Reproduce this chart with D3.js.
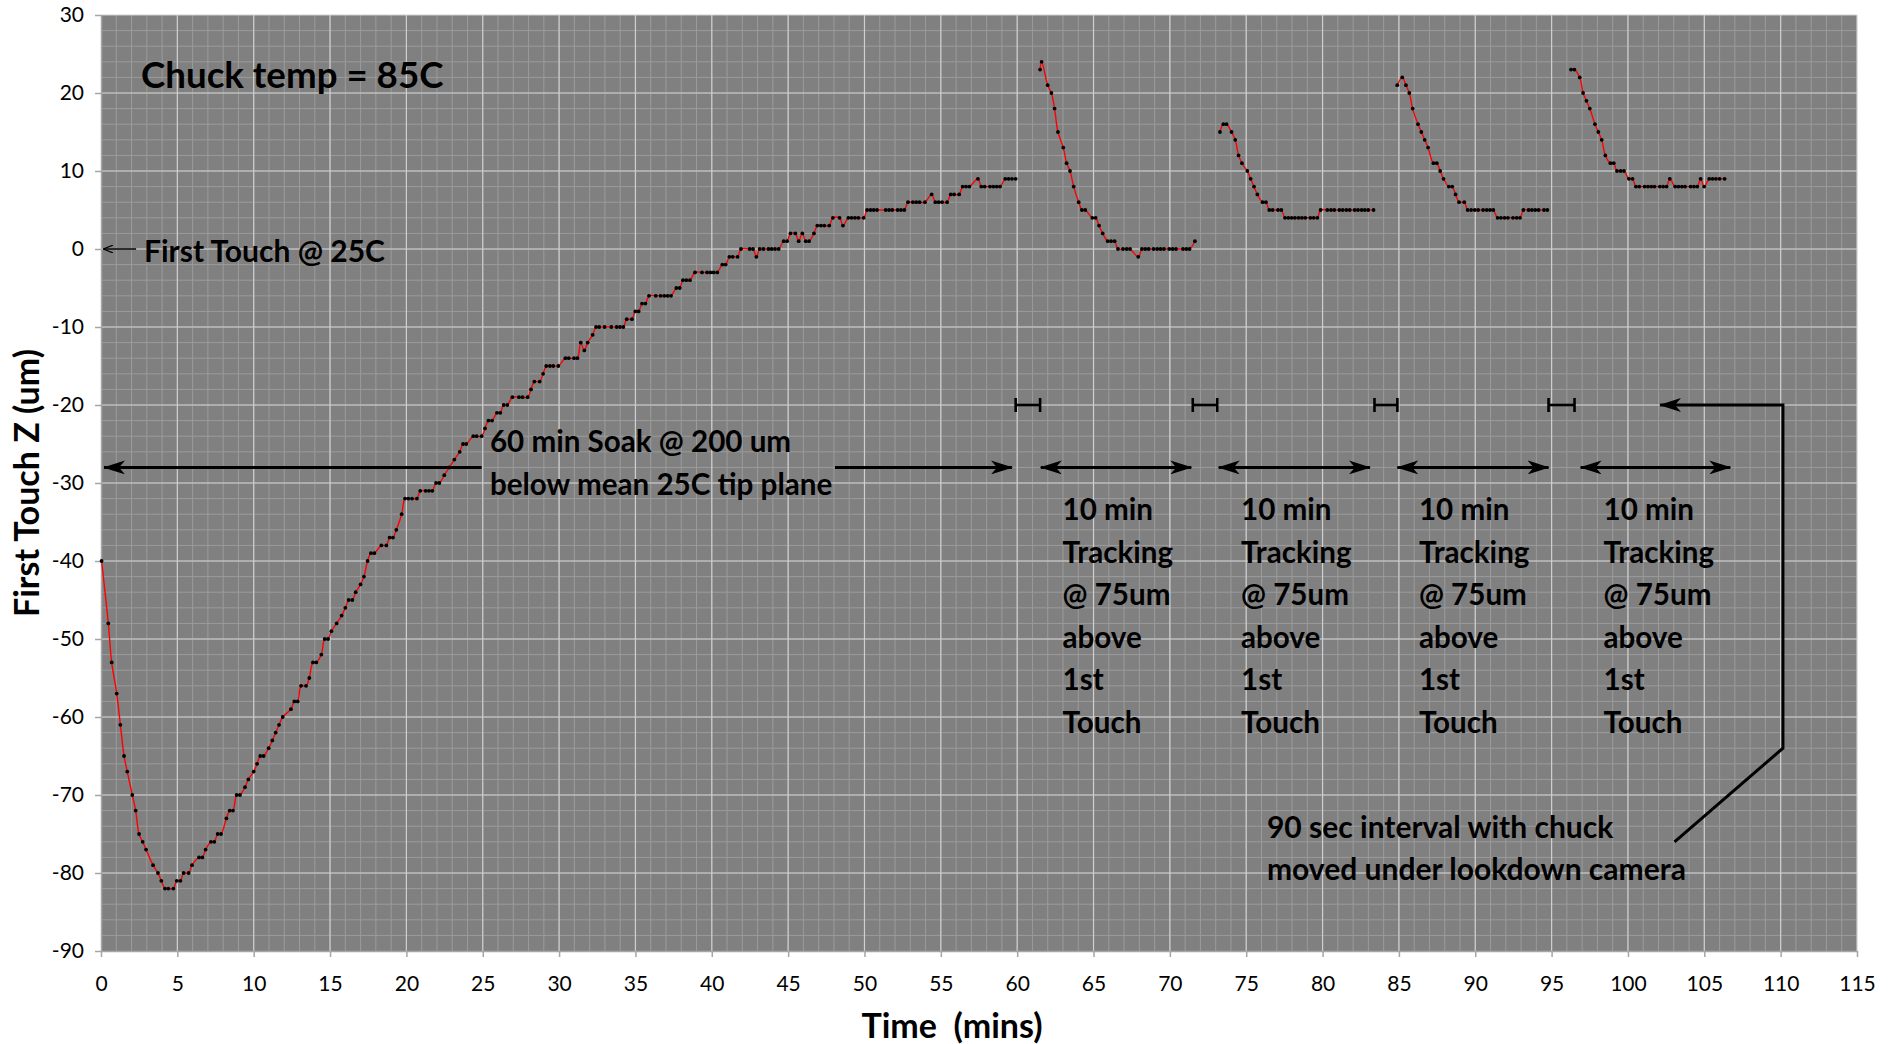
<!DOCTYPE html>
<html>
<head>
<meta charset="utf-8">
<script src="https://cdn.jsdelivr.net/npm/d3@7"></script>
<style>
  body { margin: 0; background: #fff; }
  svg { display: block; font-family: Lato, "Open Sans", sans-serif; }
  .tick text { fill: #000; }
  .ann { font-weight: bold; fill: #000; }
</style>
</head>
<body>
<svg id="chart" width="1889" height="1044"></svg>
<script>
(function () {
    'use strict';

    // ---- data (minutes, um) ----
    var soakT = [0.04, 0.48, 0.70, 1.03, 1.27, 1.51, 1.72, 2.05, 2.27, 2.49, 2.73, 2.95, 3.41, 3.73, 3.95, 4.19, 4.41, 4.74, 4.96, 5.20,
        5.41, 5.74, 5.96, 6.42, 6.64, 6.85, 7.20, 7.42, 7.64, 7.86, 8.21, 8.43, 8.64, 8.88, 9.10, 9.43, 9.65, 10.0, 10.22, 10.43,
        10.65, 10.98, 11.22, 11.44, 11.66, 11.9, 12.44, 12.66, 12.88, 13.1,
        13.43, 13.64, 13.88, 14.10, 14.43, 14.65, 14.87, 15.09, 15.43, 15.76, 16.0, 16.22, 16.46, 16.68, 17.0, 17.22, 17.46, 17.68, 17.9, 18.36,
        18.69, 18.9, 19.12, 19.34, 19.69, 19.91, 20.13, 20.37, 20.69, 20.91, 21.26, 21.48, 21.7, 21.94, 22.16, 22.48, 22.81, 23.14, 23.49, 23.71,
        23.92, 24.38, 24.6, 24.93, 25.15, 25.37, 25.61, 25.93, 26.15, 26.37, 26.61, 26.94, 27.37, 27.61, 27.94, 28.16, 28.38, 28.73, 28.95, 29.16,
        29.4, 29.62, 29.95,
        30.41, 30.63, 30.98, 31.2, 31.42, 31.65, 31.87, 32.2, 32.42, 32.63, 32.98, 33.42, 33.77, 33.99, 34.21, 34.43, 34.77, 34.99, 35.21, 35.43,
        35.65, 35.89, 36.33, 36.65, 36.89, 37.11, 37.33, 37.68, 37.9, 38.11, 38.33, 38.57, 38.9, 39.36, 39.69, 39.91, 40.12, 40.36, 40.69, 40.91,
        41.15, 41.37, 41.69, 41.91, 42.48, 42.7, 42.92, 43.14, 43.38, 43.71, 43.92, 44.14, 44.38, 44.71, 44.93, 45.15,
        45.47, 45.69, 45.93, 46.15, 46.37, 46.69, 46.91, 47.15, 47.37, 47.69, 47.93, 48.37, 48.59, 48.94, 49.16, 49.38, 49.6, 49.95, 50.17, 50.39,
        50.6, 50.82, 51.39, 51.61, 51.82, 52.17, 52.39, 52.61, 52.85, 53.17, 53.39, 53.61, 53.96, 54.4, 54.64, 54.86, 55.08, 55.41, 55.65, 55.87,
        56.2, 56.43, 56.65, 56.87, 57.43, 57.65, 57.87, 58.22, 58.44, 58.66, 58.88, 59.22, 59.44, 59.66, 59.9];
    var soakZ = [-40, -48, -53, -57, -61, -65, -67, -70, -72, -75, -76, -77, -79, -80, -81, -82, -82, -82, -81, -81,
        -80, -80, -79, -78, -78, -77, -76, -76, -75, -75, -73, -72, -72, -70, -70, -69, -68, -67, -66, -65,
        -65, -64, -63, -62, -61, -60, -59, -58, -58, -56,
        -56, -55, -53, -53, -52, -50, -50, -49, -48, -47, -46, -45, -45, -44, -43, -42, -40, -39, -39, -38,
        -38, -37, -37, -36, -34, -32, -32, -32, -32, -31, -31, -31, -31, -30, -30, -29, -28, -27, -26, -25,
        -25, -24, -24, -24, -23, -22, -22, -21, -21, -20, -20, -19, -19, -19, -19, -18, -17, -17, -16, -15,
        -15, -15, -15,
        -14, -14, -14, -14, -12, -13, -12, -11, -10, -10, -10, -10, -10, -10, -10, -9, -9, -8, -8, -7,
        -7, -6, -6, -6, -6, -6, -6, -5, -5, -4, -4, -4, -3, -3, -3, -3, -3, -3, -2, -2,
        -1, -1, -1, 0, 0, 0, -1, 0, 0, 0, 0, 0, 0, 1, 1, 2,
        2, 1, 2, 1, 1, 2, 3, 3, 3, 3, 4, 4, 3, 4, 4, 4, 4, 4, 5, 5,
        5, 5, 5, 5, 5, 5, 5, 5, 6, 6, 6, 6, 6, 7, 6, 6, 6, 6, 7, 7,
        7, 8, 8, 8, 9, 8, 8, 8, 8, 8, 8, 9, 9, 9, 9];

    var track1T = [61.5, 61.6, 62.0, 62.24, 62.45, 62.67, 63.02, 63.24, 63.46, 63.7, 64.03, 64.24, 64.46, 64.92, 65.14, 65.36, 65.6, 65.93, 66.15, 66.38,
        66.6, 66.93, 67.17, 67.39, 67.93, 68.17, 68.39, 68.61, 68.93, 69.17, 69.39, 69.61, 69.96, 70.18, 70.4, 70.86, 71.08, 71.29, 71.64];
    var track1Z = [23, 24, 21, 20, 18, 15, 13, 11, 10, 8, 6, 5, 5, 4, 4, 3, 2, 1, 1, 1,
        0, 0, 0, 0, -1, 0, 0, 0, 0, 0, 0, 0, 0, 0, 0, 0, 0, 0, 1];

    var track2T = [73.28, 73.5, 73.71, 74.04, 74.28, 74.5, 74.72, 75.07, 75.29, 75.51, 75.73, 76.07, 76.29, 76.51, 76.73, 77.08, 77.3, 77.54, 77.76, 77.98,
        78.19, 78.43, 78.65, 78.87, 79.2, 79.42, 79.66, 79.87, 80.31, 80.55, 80.77, 81.1, 81.32, 81.56, 81.78, 82.1, 82.32, 82.56, 82.77, 82.99, 83.34];
    var track2Z = [15, 16, 16, 15, 14, 12, 11, 10, 9, 8, 7, 6, 6, 5, 5, 5, 5, 4, 4, 4,
        4, 4, 4, 4, 4, 4, 4, 5, 5, 5, 5, 5, 5, 5, 5, 5, 5, 5, 5, 5, 5];

    var track3T = [84.89, 85.22, 85.46, 85.68, 85.9, 86.25, 86.47, 86.69, 86.91, 87.26, 87.48, 87.7, 87.92, 88.27, 88.49, 88.71, 88.94, 89.28, 89.5, 89.73,
        89.97, 90.19, 90.51, 90.75, 90.97, 91.18, 91.46, 91.68, 91.92, 92.14, 92.47, 92.71, 92.93, 93.15, 93.49, 93.71, 93.93, 94.15, 94.5, 94.72];
    var track3Z = [21, 22, 21, 20, 18, 16, 15, 14, 13, 11, 11, 10, 9, 8, 8, 7, 6, 6, 5, 5,
        5, 5, 5, 5, 5, 5, 4, 4, 4, 4, 4, 4, 4, 5, 5, 5, 5, 5, 5, 5];

    var track4T = [96.27, 96.49, 96.84, 97.06, 97.28, 97.5, 97.84, 98.06, 98.28, 98.52, 98.85, 99.07, 99.28, 99.52, 99.74, 100.06, 100.3, 100.52, 100.74, 101.09,
        101.31, 101.53, 101.74, 102.09, 102.31, 102.53, 102.74, 103.09, 103.31, 103.53, 103.74, 104.1, 104.32, 104.54, 104.76, 104.99, 105.32, 105.54, 105.76, 106.0, 106.33];
    var track4Z = [23, 23, 22, 20, 19, 18, 16, 15, 14, 12, 11, 11, 10, 10, 10, 9, 9, 8, 8, 8,
        8, 8, 8, 8, 8, 8, 9, 8, 8, 8, 8, 8, 8, 8, 9, 8, 9, 9, 9, 9, 9];

    // 10 min tracking windows and the 90 sec camera intervals (minutes)
    var trackWindows = [[61.55, 71.4], [73.2, 83.1], [84.9, 94.8], [96.9, 106.7]];
    var cameraGaps = [[59.9, 61.5], [71.5, 73.1], [83.4, 84.9], [94.8, 96.5]];

    var xTicks = d3.range(0, 116, 5);
    var yTicks = d3.range(-90, 31, 10);

    // ---- layout ----
    var svg = d3.select("#chart");
    var left = 101, top = 15, w = 1756, h = 936;

    var x = d3.scaleLinear().domain([0, 115]).range([left, left + w]);
    var y = d3.scaleLinear().domain([-90, 30]).range([top + h, top]);

    var defs = svg.append("defs");
    defs.append("marker")
        .attr("id", "stealth")
        .attr("viewBox", "0 -7 22 14")
        .attr("refX", 21)
        .attr("refY", 0)
        .attr("markerUnits", "userSpaceOnUse")
        .attr("markerWidth", 22)
        .attr("markerHeight", 14)
        .attr("orient", "auto-start-reverse")
        .append("path")
        .attr("d", "M0,-7L22,0L0,7L6,0Z")
        .style("fill", "#000");
    defs.append("marker")
        .attr("id", "small")
        .attr("viewBox", "0 -4 10 8")
        .attr("refX", 10)
        .attr("refY", 0)
        .attr("markerUnits", "userSpaceOnUse")
        .attr("markerWidth", 10)
        .attr("markerHeight", 8)
        .attr("orient", "auto-start-reverse")
        .append("path")
        .attr("d", "M0,-4L10,0L0,4")
        .style("fill", "none")
        .style("stroke", "#000")
        .style("stroke-width", 1.3);

    // plot area
    svg.append("rect")
        .attr("x", left).attr("y", top).attr("width", w).attr("height", h)
        .style("fill", "#808080");

    var grid = svg.append("g");
    grid.selectAll(".vmin").data(d3.range(1, 115)).enter().append("line")
        .attr("x1", function (d) { return x(d); }).attr("x2", function (d) { return x(d); })
        .attr("y1", top).attr("y2", top + h)
        .style("stroke", "#9b9b9b").style("stroke-width", 1);
    grid.selectAll(".hmin").data(d3.range(-88, 30, 2)).enter().append("line")
        .attr("x1", left).attr("x2", left + w)
        .attr("y1", function (d) { return y(d); }).attr("y2", function (d) { return y(d); })
        .style("stroke", "#9b9b9b").style("stroke-width", 1);
    grid.selectAll(".vmaj").data(xTicks.slice(1)).enter().append("line")
        .attr("x1", function (d) { return x(d); }).attr("x2", function (d) { return x(d); })
        .attr("y1", top).attr("y2", top + h)
        .style("stroke", "#cfcfcf").style("stroke-width", 1.2);
    grid.selectAll(".hmaj").data(yTicks.slice(1)).enter().append("line")
        .attr("x1", left).attr("x2", left + w)
        .attr("y1", function (d) { return y(d); }).attr("y2", function (d) { return y(d); })
        .style("stroke", "#cfcfcf").style("stroke-width", 1.2);

    // axes (plain hyphen for negatives, as in the original)
    var plain = function (d) { return String(d); };
    var xAxis = svg.append("g")
        .attr("transform", "translate(0," + (top + h) + ")")
        .call(d3.axisBottom(x).tickValues(xTicks).tickFormat(plain).tickSize(6).tickSizeOuter(0).tickPadding(19));
    var yAxis = svg.append("g")
        .attr("transform", "translate(" + left + ",0)")
        .call(d3.axisLeft(y).tickValues(yTicks).tickFormat(plain).tickSize(6).tickSizeOuter(0).tickPadding(11));
    [xAxis, yAxis].forEach(function (a) {
        a.select(".domain").style("stroke", "#a6a6a6").style("stroke-width", 1.5);
        a.selectAll(".tick line").style("stroke", "#a6a6a6").style("stroke-width", 1.5);
        a.selectAll(".tick text").style("font-size", "21px").style("font-family", "Lato, sans-serif");
    });

    svg.append("text")
        .attr("class", "ann")
        .attr("x", 952).attr("y", 1038)
        .attr("text-anchor", "middle")
        .style("font-size", "34px")
        .style("white-space", "pre")
        .text("Time  (mins)");
    svg.append("text")
        .attr("class", "ann")
        .attr("transform", "translate(39," + (top + h / 2) + ") rotate(-90)")
        .attr("text-anchor", "middle")
        .style("font-size", "34px")
        .text("First Touch Z (um)");

    // data series
    var series = [[soakT, soakZ], [track1T, track1Z], [track2T, track2Z], [track3T, track3Z], [track4T, track4Z]];
    var line = d3.line()
        .x(function (d) { return x(d[0]); })
        .y(function (d) { return y(d[1]); })
        .curve(d3.curveCatmullRom.alpha(0.5));

    series.forEach(function (s) {
        var pts = d3.zip(s[0], s[1]);
        svg.append("path")
            .datum(pts)
            .attr("d", line)
            .style("fill", "none")
            .style("stroke", "#ff0000")
            .style("stroke-width", 1.4);
        svg.append("g").selectAll("circle")
            .data(pts)
            .enter()
            .append("circle")
            .attr("cx", function (d) { return x(d[0]); })
            .attr("cy", function (d) { return y(d[1]); })
            .attr("r", 1.9)
            .style("fill", "#000");
    });

    // annotations
    var ann = svg.append("g");
    ann.append("text").attr("class", "ann")
        .attr("x", x(2.62)).attr("y", y(20.6))
        .style("font-size", "36.7px")
        .text("Chuck temp = 85C");

    ann.append("line")
        .attr("x1", x(2.3)).attr("y1", y(0)).attr("x2", x(0.15)).attr("y2", y(0))
        .style("stroke", "#000").style("stroke-width", 1.3)
        .attr("marker-end", "url(#small)");
    ann.append("text").attr("class", "ann")
        .attr("x", x(2.82)).attr("y", y(-1.65))
        .style("font-size", "30px")
        .text("First Touch @ 25C");

    // 60 min soak arrow, split around its label
    ann.append("line")
        .attr("x1", x(24.93)).attr("y1", y(-28)).attr("x2", x(0.2)).attr("y2", y(-28))
        .style("stroke", "#000").style("stroke-width", 3)
        .attr("marker-end", "url(#stealth)");
    ann.append("line")
        .attr("x1", x(48.07)).attr("y1", y(-28)).attr("x2", x(59.66)).attr("y2", y(-28))
        .style("stroke", "#000").style("stroke-width", 3)
        .attr("marker-end", "url(#stealth)");
    var soakText = ann.append("text").attr("class", "ann")
        .attr("x", x(25.47)).attr("y", y(-26.05))
        .style("font-size", "29.6px");
    soakText.append("tspan").attr("x", x(25.47)).text("60 min Soak @ 200 um");
    soakText.append("tspan").attr("x", x(25.47)).attr("dy", 42.5).text("below mean 25C tip plane");

    // tracking windows
    ann.selectAll(".trk").data(trackWindows).enter().append("line")
        .attr("x1", function (d) { return x(d[0]); }).attr("x2", function (d) { return x(d[1]); })
        .attr("y1", y(-28)).attr("y2", y(-28))
        .style("stroke", "#000").style("stroke-width", 3)
        .attr("marker-start", "url(#stealth)")
        .attr("marker-end", "url(#stealth)");

    var trackLines = ["10 min", "Tracking", "@ 75um", "above", "1st", "Touch"];
    var trackX = [62.97, 74.66, 86.31, 98.4];
    trackX.forEach(function (tx) {
        var t = ann.append("text").attr("class", "ann")
            .attr("x", x(tx)).attr("y", y(-34.75))
            .style("font-size", "29.6px");
        trackLines.forEach(function (s, i) {
            t.append("tspan").attr("x", x(tx)).attr("dy", i === 0 ? 0 : 42.5).text(s);
        });
    });

    // 90 sec camera intervals
    cameraGaps.forEach(function (g) {
        var gg = ann.append("g").style("stroke", "#000").style("stroke-width", 2.6);
        gg.append("line").attr("x1", x(g[0])).attr("x2", x(g[1])).attr("y1", y(-20)).attr("y2", y(-20));
        gg.append("line").attr("x1", x(g[0])).attr("x2", x(g[0])).attr("y1", y(-20) - 7).attr("y2", y(-20) + 7);
        gg.append("line").attr("x1", x(g[1])).attr("x2", x(g[1])).attr("y1", y(-20) - 7).attr("y2", y(-20) + 7);
    });

    ann.append("path")
        .attr("d", "M" + x(103.05) + "," + y(-76) + "L" + x(110.15) + "," + y(-64) +
            "L" + x(110.15) + "," + y(-20) + "L" + x(102.1) + "," + y(-20))
        .style("fill", "none").style("stroke", "#000").style("stroke-width", 3)
        .attr("marker-end", "url(#stealth)");
    var camText = ann.append("text").attr("class", "ann")
        .attr("x", x(76.36)).attr("y", y(-75.5))
        .style("font-size", "30px");
    camText.append("tspan").attr("x", x(76.36)).text("90 sec interval with chuck");
    camText.append("tspan").attr("x", x(76.36)).attr("dy", 42.5).text("moved under lookdown camera");
}());
</script>
</body>
</html>
